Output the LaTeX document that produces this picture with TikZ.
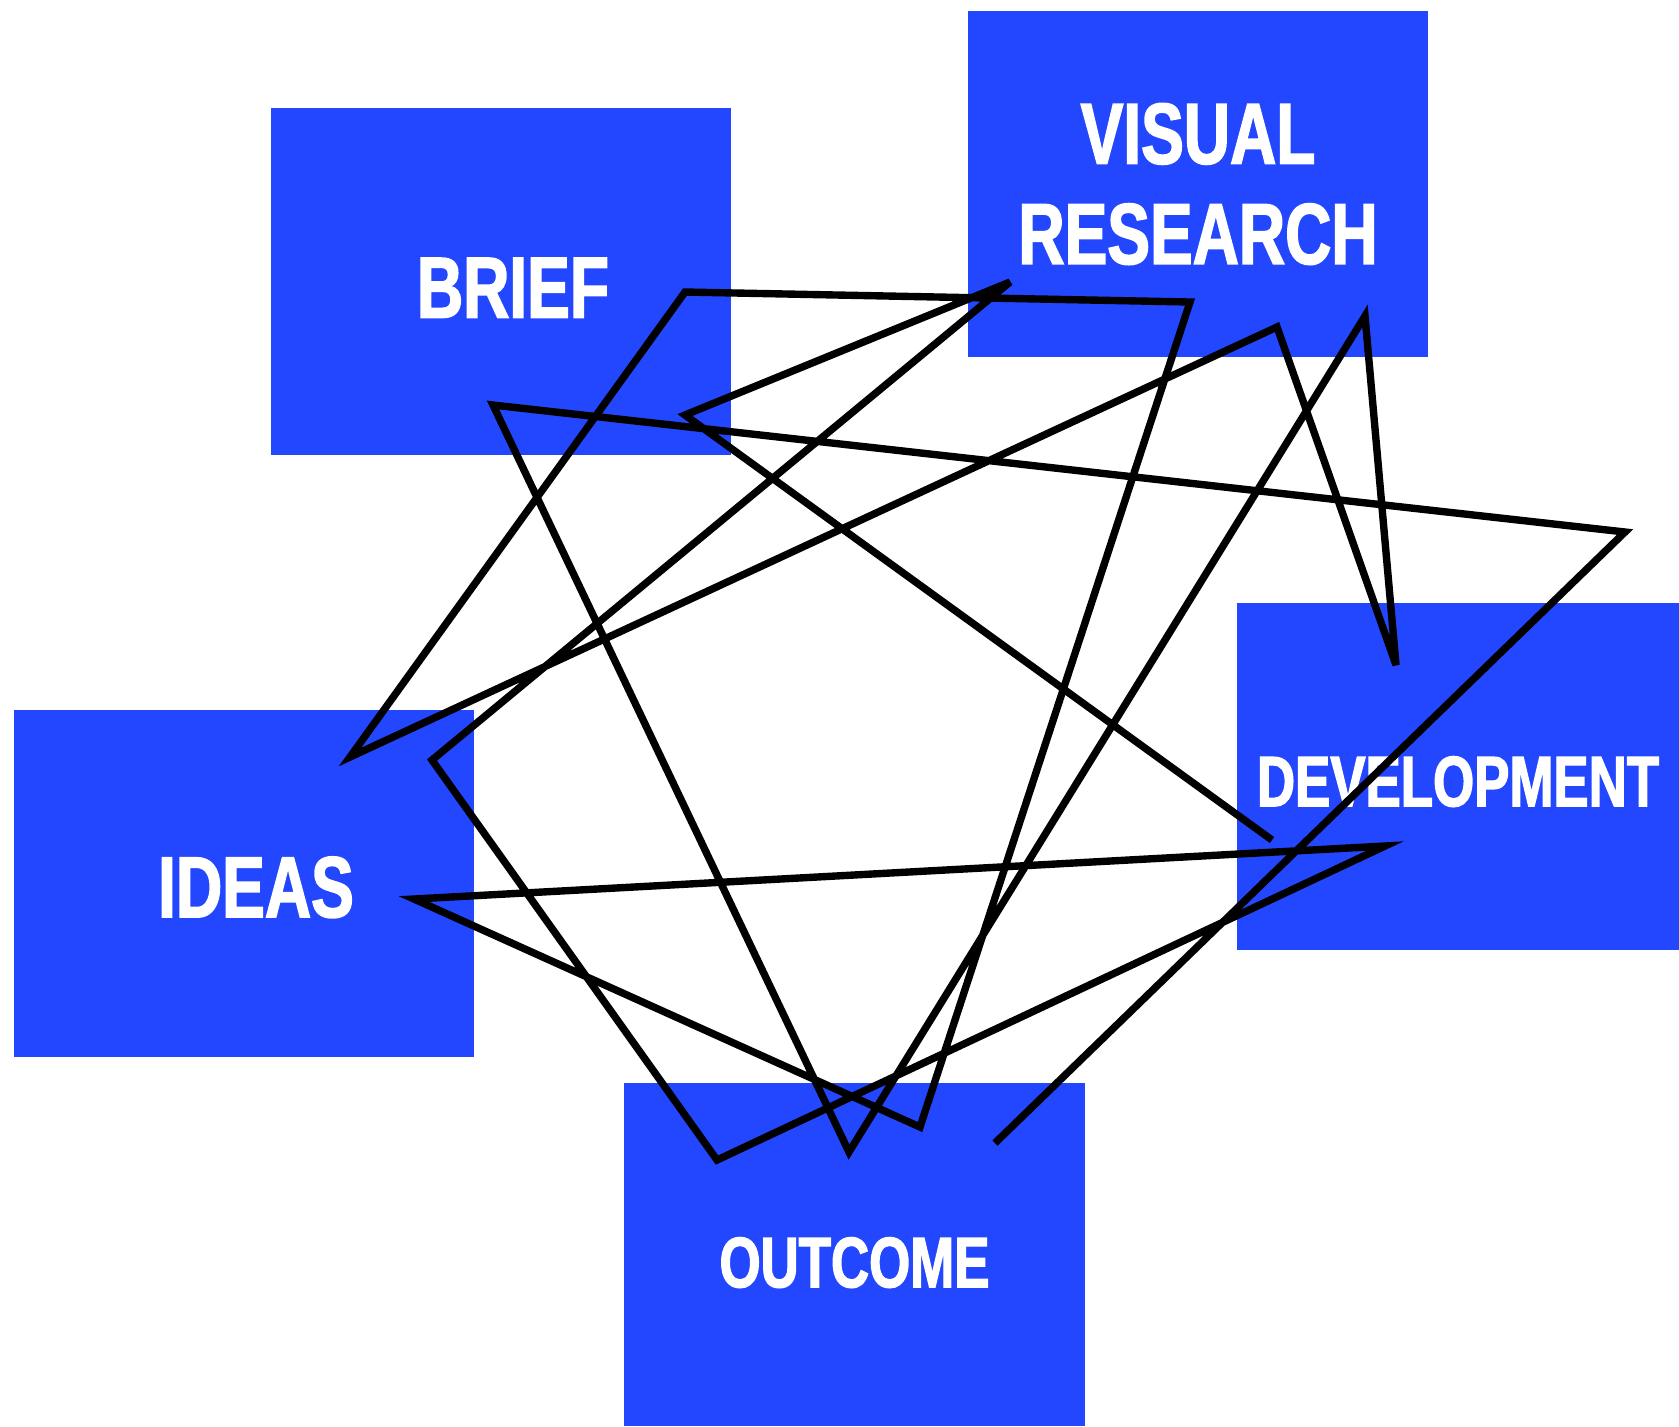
\documentclass[tikz,border=0pt]{standalone}
\usepackage{fontspec}
\newfontfamily\stagefont[FakeStretch=0.74,FakeBold=1.8]{Liberation Sans}
\definecolor{stageblue}{RGB}{35,71,255}
\tikzset{
  stage/.style={fill=stageblue, text=white, inner sep=0pt, align=center,
    minimum width=4.6cm, minimum height=3.47cm,
    font=\stagefont\bfseries\fontsize{24.6}{28.5}\selectfont},
  small/.style={font=\stagefont\bfseries\fontsize{20.3}{24}\selectfont},
  scribble/.style={line width=2.1pt, line join=miter, miter limit=6},
}
\begin{document}
\begin{tikzpicture}[x=0.01cm,y=-0.01cm]
  \useasboundingbox (0,0) rectangle (1679,1426);

  % Stages
  \node [stage, text height=0.72cm] (brief) at (501,281.5) {\hspace*{0.24cm}BRIEF};
  \node [stage, minimum height=3.46cm] (visual) at (1198,184) {VISUAL\\RESEARCH};
  \node [stage, text height=0.68cm] (ideas) at (244,883.5) {\hspace*{0.24cm}IDEAS};
  \node [stage, small, minimum width=4.42cm, text height=0.6cm] (dev) at (1458,776.5) {DEVELOPMENT};
  \node [stage, small, minimum height=3.43cm, text height=0.66cm] (outcome) at (854.5,1254.5) {OUTCOME};

  % Scribble across the stages
  \draw [scribble] (995,1143) -- (1625,532) -- (493,405) -- (849,1152)
    -- (1365,316) -- (1396,665) -- (1277,327) -- (350,757) -- (685,292)
    -- (1190,302) -- (920,1127) -- (414,899) -- (1385,846) -- (717,1160)
    -- (432,760) -- (1010,282) -- (685,415) -- (1272,840);
\end{tikzpicture}
\end{document}
